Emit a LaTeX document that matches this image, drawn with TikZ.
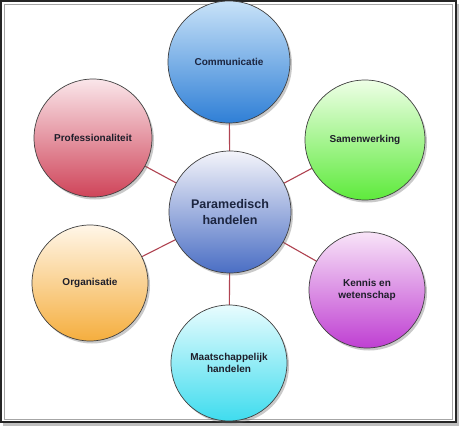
\documentclass[tikz,border=0pt]{standalone}
\usepackage{fontspec}
\setmainfont{Liberation Sans}
\usetikzlibrary{shadows}
\definecolor{linkred}{HTML}{B04452}
\definecolor{txt}{HTML}{1E1E2A}
\definecolor{ctxt}{HTML}{1C2540}
\definecolor{ctop}{HTML}{F4F4FA}
\definecolor{cbot}{HTML}{4A6EC4}
\definecolor{comtop}{HTML}{C8E2F8}
\definecolor{combot}{HTML}{2F7FD6}
\definecolor{samtop}{HTML}{EEFFE6}
\definecolor{sambot}{HTML}{5EEA3C}
\definecolor{kentop}{HTML}{F8E4F8}
\definecolor{kenbot}{HTML}{BF3FD2}
\definecolor{maatop}{HTML}{E8FCFE}
\definecolor{maabot}{HTML}{3FDCEE}
\definecolor{orgtop}{HTML}{FFF6E8}
\definecolor{orgbot}{HTML}{F5AE3E}
\definecolor{protop}{HTML}{FAE6EA}
\definecolor{probot}{HTML}{CF4459}
\tikzset{
  bubble/.style={circle, draw=black!75, line width=0.7pt, minimum size=#1, inner sep=0pt,
    align=center, text=txt, font=\bfseries\fontsize{10}{12.5}\selectfont,
    drop shadow={shadow xshift=2pt, shadow yshift=-2.5pt, opacity=0.35, fill=black!60}},
  link/.style={draw=linkred, line width=1.1pt}
}
\begin{document}
\begin{tikzpicture}[x=1pt,y=-1pt]
\useasboundingbox (0,0) rectangle (459,426);
% frame
\fill[black!25] (3,4) rectangle (459,426);
\fill[white] (0,0) rectangle (456,423);
\draw[black!85, line width=1.6pt] (0.8,0.8) rectangle (455.7,422.2);
\draw[black!35, line width=0.7pt] (4,4) rectangle (452.5,419);
% connector anchors
\coordinate (pc) at (230,212);
\coordinate (pcom) at (229,62);
\coordinate (psam) at (365,140);
\coordinate (pken) at (367,290);
\coordinate (pmaa) at (229,363);
\coordinate (porg) at (90,283);
\coordinate (ppro) at (93,138);
\foreach \p in {pcom,psam,pken,pmaa,porg,ppro} \draw[link] (pc) -- (\p);
% nodes
\node[bubble=122pt, top color=ctop, bottom color=cbot, font=\bfseries\fontsize{12.5}{16}\selectfont, text=ctxt] (c) at (pc) {Paramedisch\\handelen};
\node[bubble=122pt, top color=comtop, bottom color=combot, text=ctxt] (com) at (pcom) {Communicatie};
\node[bubble=120pt, top color=samtop, bottom color=sambot] (sam) at (psam) {Samenwerking};
\node[bubble=116pt, top color=kentop, bottom color=kenbot] (ken) at (pken) {Kennis en\\wetenschap};
\node[bubble=116pt, top color=maatop, bottom color=maabot] (maa) at (pmaa) {Maatschappelijk\\handelen};
\node[bubble=116pt, top color=orgtop, bottom color=orgbot] (org) at (porg) {Organisatie};
\node[bubble=118pt, top color=protop, bottom color=probot] (pro) at (ppro) {Professionaliteit};
\end{tikzpicture}
\end{document}
